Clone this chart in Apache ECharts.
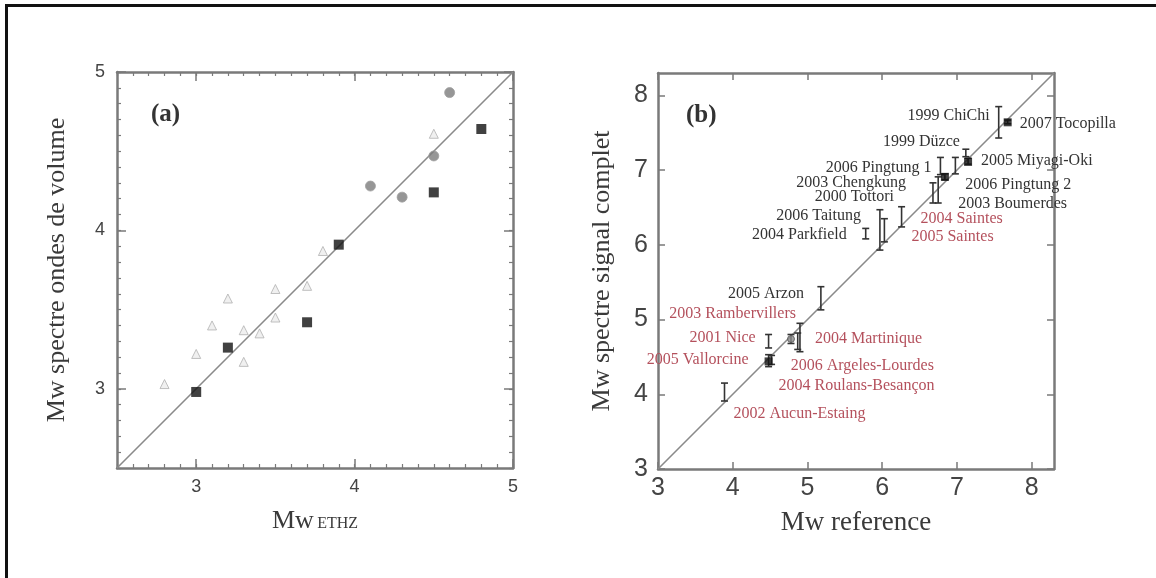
<!DOCTYPE html>
<html><head><meta charset="utf-8">
<script src="https://cdn.jsdelivr.net/npm/echarts@6/dist/echarts.min.js"></script>
<style>
html,body{margin:0;padding:0;background:#fff;}
#chart{position:absolute;left:0;top:0;width:1156px;height:578px;}
#frame{position:absolute;left:5px;top:4px;width:1151px;height:574px;border-left:3px solid #111;border-top:3px solid #111;box-sizing:border-box;pointer-events:none;}
</style></head><body>
<div id="chart"></div><div id="frame"></div>
<script>
// ---------- Panel (a) data ----------
const aRange = [2.5, 5];
const aTicks = [3, 4, 5];
const aSquareX = [3.0, 3.2, 3.7, 3.9, 4.5, 4.8];
const aSquareY = [2.98, 3.26, 3.42, 3.91, 4.24, 4.64];
const aCircleX = [4.1, 4.3, 4.5, 4.6];
const aCircleY = [4.28, 4.21, 4.47, 4.87];
const aTriX = [2.8, 3.0, 3.1, 3.2, 3.3, 3.3, 3.4, 3.5, 3.5, 3.7, 3.8, 4.5];
const aTriY = [3.03, 3.22, 3.40, 3.57, 3.37, 3.17, 3.35, 3.63, 3.45, 3.65, 3.87, 4.61];

// ---------- Panel (b) data ----------
const bRange = [3, 8.3];
const bTicks = [3, 4, 5, 6, 7, 8];
const bNames = ['1999 ChiChi', '2007 Tocopilla', '1999 Düzce', '2005 Miyagi-Oki', '2006 Pingtung 1',
  '2006 Pingtung 2', '2003 Chengkung', '2000 Tottori', '2003 Boumerdes', '2006 Taitung',
  '2004 Parkfield', '2004 Saintes', '2005 Saintes', '2005 Arzon', '2003 Rambervillers',
  '2004 Martinique', '2001 Nice', '2005 Vallorcine', '2006 Argeles-Lourdes',
  '2004 Roulans-Besançon', '2002 Aucun-Estaing'];
const bRef  = [7.56, 7.68, 7.12, 7.15, 6.78, 6.98, 6.84, 6.68, 6.75, 5.97, 5.78, 6.26, 6.03, 5.18, 4.90, 4.78, 4.48, 4.48, 4.87, 4.52, 3.89];
const bLow  = [7.43, 7.62, 7.18, 7.08, 6.94, 6.95, 6.87, 6.56, 6.56, 5.93, 6.08, 6.24, 6.04, 5.13, 4.57, 4.68, 4.62, 4.37, 4.60, 4.40, 3.91];
const bHigh = [7.85, 7.67, 7.28, 7.16, 7.17, 7.17, 6.95, 6.83, 6.91, 6.47, 6.22, 6.51, 6.35, 5.44, 4.95, 4.80, 4.80, 4.53, 4.82, 4.52, 4.15];
const bRegion = ['world', 'world', 'world', 'world', 'world', 'world', 'world', 'world', 'world', 'world',
  'world', 'france', 'france', 'world', 'france', 'france', 'france', 'france', 'france', 'france', 'france'];
const bSquareX = [7.68, 7.15, 6.84, 4.48];
const bSquareY = [7.64, 7.11, 6.91, 4.44];
const bCircleX = [4.78];
const bCircleY = [4.74];

// ---------- layout / style (not data) ----------
const labelLayout = {
  '1999 ChiChi': [-9, -7, 'right'], '2007 Tocopilla': [12, 2, 'left'], '1999 Düzce': [-6, -11, 'right'],
  '2005 Miyagi-Oki': [13, 0, 'left'], '2006 Pingtung 1': [-9, 2, 'right'], '2006 Pingtung 2': [10, 19, 'left'],
  '2003 Chengkung': [-39, 6, 'right'], '2000 Tottori': [-39, 4, 'right'], '2003 Boumerdes': [20, 14, 'left'],
  '2006 Taitung': [-19, -14, 'right'], '2004 Parkfield': [-19, 1, 'right'], '2004 Saintes': [19, 2, 'left'],
  '2005 Saintes': [27, 7, 'left'], '2005 Arzon': [-17, -4, 'right'], '2003 Rambervillers': [-4, -24, 'right'],
  '2004 Martinique': [24, 0, 'left'], '2001 Nice': [-13, -3, 'right'], '2005 Vallorcine': [-20, -1, 'right'],
  '2006 Argeles-Lourdes': [-7, 25, 'left'], '2004 Roulans-Besançon': [7, 26, 'left'], '2002 Aucun-Estaing': [9, 22, 'left']
};
const SERIF = '"Liberation Serif", "DejaVu Serif", serif';
const SANS = '"Liberation Sans", Arial, sans-serif';
const AXC = '#7a7a7a';
const regionColor = { world: '#333333', france: '#b4505c' };

const zip = (xs, ys) => xs.map((x, i) => [x, ys[i]]);

function frameAxis(dim, grid, pos, range, opts) {
  const o = {
    type: 'value', gridIndex: grid, position: pos, min: range[0], max: range[1],
    splitLine: { show: false },
    axisLine: { show: true, onZero: false, lineStyle: { color: AXC, width: 2.5 } },
    axisTick: { show: true, inside: true, length: 4, lineStyle: { color: AXC, width: 1.2 } },
    axisLabel: { show: false }
  };
  return Object.assign(o, opts || {});
}

const chart = echarts.init(document.getElementById('chart'));

const option = {
  animation: false,
  backgroundColor: '#ffffff',
  title: [
    { text: '(a)', left: 146, top: 97, textStyle: { fontFamily: SERIF, fontWeight: 'bold', fontSize: 25, color: '#333' } },
    { text: '(b)', left: 681, top: 98, textStyle: { fontFamily: SERIF, fontWeight: 'bold', fontSize: 25, color: '#333' } }
  ],
  grid: [
    { left: 117, top: 72, width: 396, height: 396 },
    { left: 658, top: 73, width: 396, height: 396 }
  ],
  xAxis: [
    // panel a
    frameAxis('x', 0, 'bottom', aRange, {
      interval: 0.1,
      axisLabel: { show: true, customValues: aTicks, margin: 10, fontFamily: SANS, fontSize: 18, color: '#444' },
      name: '{m|Mw} {s|ETHZ}', nameLocation: 'middle', nameGap: 40,
      nameTextStyle: { rich: {
        m: { fontFamily: SERIF, fontSize: 26, color: '#3a3a3a' },
        s: { fontFamily: SERIF, fontSize: 16, color: '#3a3a3a', padding: [6, 0, 0, 0] } } }
    }),
    frameAxis('x', 0, 'top', aRange, { interval: 0.1 }),
    frameAxis('x', 0, 'bottom', aRange, { axisLine: { show: false }, axisTick: { show: true, inside: true, length: 9, customValues: aTicks, lineStyle: { color: AXC, width: 1.5 } } }),
    frameAxis('x', 0, 'top', aRange, { axisLine: { show: false }, axisTick: { show: true, inside: true, length: 9, customValues: aTicks, lineStyle: { color: AXC, width: 1.5 } } }),
    // panel b
    frameAxis('x', 1, 'bottom', bRange, {
      interval: 1,
      axisTick: { show: true, inside: true, length: 7, customValues: bTicks, lineStyle: { color: AXC, width: 1.5 } },
      axisLabel: { show: true, customValues: bTicks, margin: 7, fontFamily: SANS, fontSize: 25, color: '#444' },
      name: 'Mw reference', nameLocation: 'middle', nameGap: 40,
      nameTextStyle: { fontFamily: SERIF, fontSize: 27, color: '#3a3a3a' }
    }),
    frameAxis('x', 1, 'top', bRange, {
      interval: 1,
      axisTick: { show: true, inside: true, length: 7, customValues: bTicks, lineStyle: { color: AXC, width: 1.5 } }
    })
  ],
  yAxis: [
    frameAxis('y', 0, 'left', aRange, {
      interval: 0.1,
      axisLabel: { show: true, customValues: aTicks, margin: 12, fontFamily: SANS, fontSize: 18, color: '#444' },
      name: 'Mw spectre ondes de volume', nameLocation: 'middle', nameGap: 47, nameRotate: 90,
      nameTextStyle: { fontFamily: SERIF, fontSize: 26, color: '#3a3a3a' }
    }),
    frameAxis('y', 0, 'right', aRange, { interval: 0.1 }),
    frameAxis('y', 0, 'left', aRange, { axisLine: { show: false }, axisTick: { show: true, inside: true, length: 9, customValues: aTicks, lineStyle: { color: AXC, width: 1.5 } } }),
    frameAxis('y', 0, 'right', aRange, { axisLine: { show: false }, axisTick: { show: true, inside: true, length: 9, customValues: aTicks, lineStyle: { color: AXC, width: 1.5 } } }),
    frameAxis('y', 1, 'left', bRange, {
      interval: 1,
      axisTick: { show: true, inside: true, length: 7, customValues: bTicks, lineStyle: { color: AXC, width: 1.5 } },
      axisLabel: { show: true, customValues: bTicks, margin: 10, fontFamily: SANS, fontSize: 25, color: '#444' },
      name: 'Mw spectre signal complet', nameLocation: 'middle', nameGap: 43, nameRotate: 90,
      nameTextStyle: { fontFamily: SERIF, fontSize: 26, color: '#3a3a3a' }
    }),
    frameAxis('y', 1, 'right', bRange, {
      interval: 1,
      axisTick: { show: true, inside: true, length: 7, customValues: bTicks, lineStyle: { color: AXC, width: 1.5 } }
    })
  ],
  series: [
    // panel a
    { type: 'line', xAxisIndex: 0, yAxisIndex: 0, data: [[aRange[0], aRange[0]], [aRange[1], aRange[1]]],
      symbol: 'none', lineStyle: { color: '#8a8a8a', width: 1.6 }, z: 1, silent: true },
    { type: 'scatter', xAxisIndex: 0, yAxisIndex: 0, data: zip(aTriX, aTriY), symbol: 'triangle', symbolSize: 9,
      itemStyle: { color: '#ececec', borderColor: '#b0b0b0', borderWidth: 1 }, z: 2 },
    { type: 'scatter', xAxisIndex: 0, yAxisIndex: 0, data: zip(aCircleX, aCircleY), symbol: 'circle', symbolSize: 10,
      itemStyle: { color: '#7c7c7c', borderColor: '#a0a0a0', borderWidth: 1 }, z: 3 },
    { type: 'scatter', xAxisIndex: 0, yAxisIndex: 0, data: zip(aSquareX, aSquareY), symbol: 'rect', symbolSize: 10,
      itemStyle: { color: '#111' }, z: 4 },
    // panel b
    { type: 'line', xAxisIndex: 4, yAxisIndex: 4, data: [[bRange[0], bRange[0]], [bRange[1], bRange[1]]],
      symbol: 'none', lineStyle: { color: '#8a8a8a', width: 1.6 }, z: 1, silent: true },
    { type: 'custom', xAxisIndex: 4, yAxisIndex: 4, clip: false, z: 3,
      data: bRef.map((x, i) => [x, bLow[i], bHigh[i]]),
      encode: { x: 0, y: [1, 2] },
      renderItem: function (params, api) {
        const i = params.dataIndex;
        const x = api.value(0), lo = api.value(1), hi = api.value(2);
        const pLo = api.coord([x, lo]);
        const pHi = api.coord([x, hi]);
        const px = pLo[0], midY = (pLo[1] + pHi[1]) / 2;
        const lay = labelLayout[bNames[i]] || [8, 0, 'left'];
        const stroke = { stroke: '#333', lineWidth: 1.6 };
        const w = 3.5;
        return {
          type: 'group',
          children: [
            { type: 'line', shape: { x1: px, y1: pLo[1], x2: px, y2: pHi[1] }, style: stroke },
            { type: 'line', shape: { x1: px - w, y1: pLo[1], x2: px + w, y2: pLo[1] }, style: stroke },
            { type: 'line', shape: { x1: px - w, y1: pHi[1], x2: px + w, y2: pHi[1] }, style: stroke },
            { type: 'text', x: px + lay[0], y: midY + lay[1],
              style: { text: bNames[i], fill: regionColor[bRegion[i]], font: '16px ' + SERIF,
                align: lay[2], verticalAlign: 'middle' } }
          ]
        };
      }
    },
    { type: 'scatter', xAxisIndex: 4, yAxisIndex: 4, data: zip(bCircleX, bCircleY), symbol: 'circle', symbolSize: 7,
      itemStyle: { color: '#8a8a8a', borderColor: '#555', borderWidth: 1 }, z: 4 },
    { type: 'scatter', xAxisIndex: 4, yAxisIndex: 4, data: zip(bSquareX, bSquareY), symbol: 'rect', symbolSize: 8,
      itemStyle: { color: '#111' }, z: 5 }
  ]
};
chart.setOption(option);
</script>
</body></html>
